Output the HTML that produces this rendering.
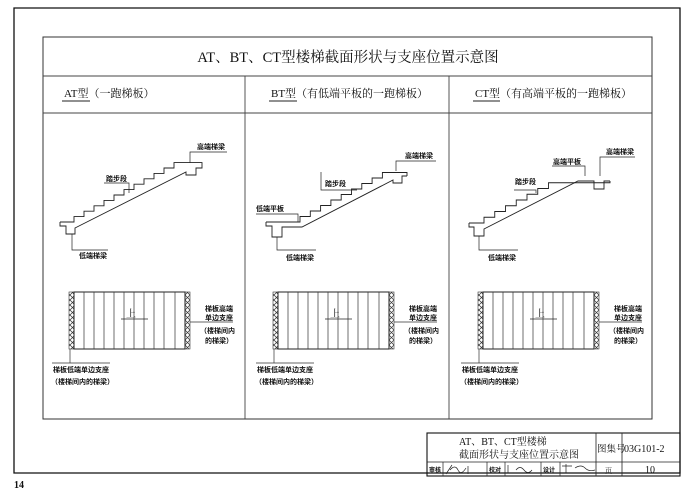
<!DOCTYPE html>
<html><head><meta charset="utf-8"><style>
body{margin:0;background:#fff;}
svg text{font-family:"Liberation Serif","Noto Serif CJK SC","Noto Sans CJK SC",serif;fill:#111;}
.s{font-family:"Liberation Sans","Noto Sans CJK SC",sans-serif;font-size:7px;font-weight:bold;}
</style></head><body>
<svg width="688" height="493" viewBox="0 0 688 493" xmlns="http://www.w3.org/2000/svg">
<defs>
<pattern id="hx" width="5" height="5" patternUnits="userSpaceOnUse">
<path d="M0 0L5 5M5 0L0 5" stroke="#333" stroke-width="0.7"/>
</pattern>
<g id="plan">
<rect x="69" y="292" width="5" height="57" fill="url(#hx)" stroke="#333" stroke-width="0.6"/>
<rect x="185" y="292" width="5" height="57" fill="url(#hx)" stroke="#333" stroke-width="0.6"/>
<rect x="74" y="292" width="111" height="57" fill="none" stroke="#222" stroke-width="1"/>
<path d="M84 292V349M94 292V349M104 292V349M114 292V349M124 292V349M134 292V349M144 292V349M154 292V349M164 292V349M175 292V349" stroke="#333" stroke-width="0.7"/>
<text x="126" y="317" font-size="10">上</text>
<path d="M121 319H148" stroke="#222" stroke-width="0.8"/>
<path d="M190 322H233M70 349V363M52 363H110" stroke="#333" stroke-width="0.7"/>
<text class="s" x="205" y="311">梯板高端</text>
<text class="s" x="205" y="320">单边支座</text>
<text class="s" x="200" y="333">（楼梯间内</text>
<text class="s" x="205" y="343">的梯梁）</text>
<text class="s" x="53" y="372">梯板低端单边支座</text>
<text class="s" x="51" y="384">（楼梯间内的梯梁）</text>
</g>
</defs>
<path d="M14 8H680V473H14Z" fill="none" stroke="#111" stroke-width="1.3"/>
<rect x="43" y="37" width="609" height="382" fill="none" stroke="#333" stroke-width="1"/>
<path d="M43 76H652M43 113H652M245 76V419M449 76V419" stroke="#444" stroke-width="0.9"/>
<text x="348" y="62" font-size="14.5" text-anchor="middle">AT、BT、CT型楼梯截面形状与支座位置示意图</text>
<text x="64" y="97" font-size="11">AT型（一跑梯板）</text>
<path d="M62 101H90" stroke="#222"/>
<text x="271" y="97" font-size="11">BT型（有低端平板的一跑梯板）</text>
<path d="M269 101H297" stroke="#222"/>
<text x="475" y="97" font-size="11">CT型（有高端平板的一跑梯板）</text>
<path d="M473 101H500" stroke="#222"/>

<g fill="none" stroke="#222" stroke-width="0.9">
<path d="M60 222H74v-5.4h10v-5.4h10v-5.4h10v-5.4h10v-5.4h10v-5.4h10v-5.4h10v-5.4h10v-5.4h10v-5.4h10v-5.4h10H202V164"/>
<path d="M60 222V226H66V234H75V228L186 172V175H196V168H202V164"/>
<path d="M190 163V152H227M129 193V183H104M72 234V250H108" stroke-width="0.7"/>
<path d="M266 222H300v-5.5h10.3v-5.5h10.3v-5.5h10.3v-5.5h10.3v-5.5h10.3v-5.5h10.3v-5.5h10.3v-5.5h10.3v-5.5h10.3H407V176"/>
<path d="M266 222V226H272V237H282V227H302L393 180V183H402V176H407"/>
<path d="M298 222V214H256M321 172V190H357M396 171V161H436M277 237V250H316" stroke-width="0.7"/>
<path d="M469 223H484v-5.75h10.75v-5.75h10.75v-5.75h10.75v-5.75h10.75v-5.75h10.75v-5.75h10.75v-5.75h10.75H610V181"/>
<path d="M469 223V227H474V236H484V229L578 181H594V189H604V181H610"/>
<path d="M536 193V190H514M585 176V166H552M600 176V157H635M479 236V250H518" stroke-width="0.7"/>
</g>
<text class="s" x="197" y="149">高端梯梁</text>
<text class="s" x="106" y="181">踏步段</text>
<text class="s" x="79" y="258">低端梯梁</text>
<text class="s" x="405" y="158">高端梯梁</text>
<text class="s" x="325" y="186">踏步段</text>
<text class="s" x="256" y="211">低端平板</text>
<text class="s" x="286" y="260">低端梯梁</text>
<text class="s" x="606" y="154">高端梯梁</text>
<text class="s" x="553" y="164">高端平板</text>
<text class="s" x="515" y="184">踏步段</text>
<text class="s" x="488" y="260">低端梯梁</text>

<use href="#plan"/>
<use href="#plan" x="204"/>
<use href="#plan" x="409"/>

<rect x="427" y="433" width="253" height="43" fill="none" stroke="#111" stroke-width="1.1"/>
<path d="M427 462H596M596 433V476M622 433V476M596 462H680" stroke="#222" stroke-width="0.8"/>
<path d="M443 462V476M487 462V476M505 462V476M541 462V476M560 462V476" stroke="#222" stroke-width="0.7"/>
<text x="459" y="445" font-size="10">AT、BT、CT型楼梯</text>
<text x="459" y="458" font-size="10">截面形状与支座位置示意图</text>
<text x="597" y="452" font-size="9.5">图集号</text>
<text x="624" y="452" font-size="10">03G101-2</text>
<text x="605" y="473" font-size="7">页</text>
<text x="645" y="473" font-size="10">10</text>
<text class="s" x="429" y="472" style="font-size:6px">审核</text>
<text class="s" x="489" y="472" style="font-size:6px">校对</text>
<text class="s" x="543" y="472" style="font-size:6px">设计</text>
<path d="M446 474L452 465M450 470q5-6 8 0t8-2M468 466v8M508 465v8M516 470q4-5 8 0t8 0M562 466h10M566 464v9M575 468q6-4 10 0t10 2" fill="none" stroke="#222" stroke-width="0.7"/>
<text x="14" y="488" font-size="10" font-weight="bold">14</text>
</svg>
</body></html>
